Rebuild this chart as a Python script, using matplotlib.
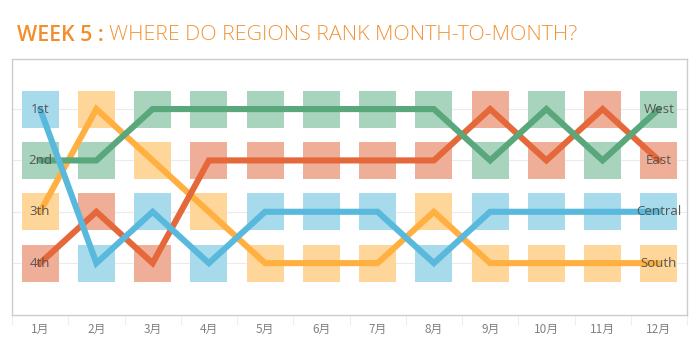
import matplotlib
matplotlib.use("Agg")
import matplotlib.pyplot as plt
import numpy as np

plt.rcParams['font.family'] = ['Noto Sans CJK SC', 'DejaVu Sans']

months = ["1月", "2月", "3月", "4月", "5月", "6月", "7月", "8月", "9月", "10月", "11月", "12月"]
rank_labels = ["1st", "2nd", "3th", "4th"]
regions = ["South", "East", "West", "Central"]
west = [2, 2, 1, 1, 1, 1, 1, 1, 2, 1, 2, 1]
east = [4, 3, 4, 2, 2, 2, 2, 2, 1, 2, 1, 2]
central = [1, 4, 3, 4, 3, 3, 3, 4, 3, 3, 3, 3]
south = [3, 1, 2, 3, 4, 4, 4, 3, 4, 4, 4, 4]
series = {"South": south, "East": east, "West": west, "Central": central}

line_colors = {"West": "#59A77A", "East": "#E5683B", "Central": "#59B9DC", "South": "#FFB040"}
box_colors = {"West": "#A8D3BC", "East": "#EFAE98", "Central": "#A7DAEB", "South": "#FFD699"}

fig = plt.figure(figsize=(6.99, 3.49), dpi=100)
ax = fig.add_axes([12/699, 1 - 315/349, 675/699, 256/349])

x = np.arange(len(months))
for r in regions:
    vals = np.array(series[r])
    ax.bar(x, 0.72, bottom=vals - 0.36, width=0.66, color=box_colors[r], zorder=2, linewidth=0)

for r in regions:
    ax.plot(x, series[r], color=line_colors[r], lw=4.4, zorder=3, solid_joinstyle='miter', solid_capstyle='round')

for i, lab in enumerate(rank_labels):
    ax.text(0, i + 1, lab, ha='center', va='center', fontsize=9.5, color='#555555', zorder=5,
            family=['Open Sans', 'DejaVu Sans'])
for r in regions:
    ax.text(x[-1], series[r][-1], r, ha='center', va='center', fontsize=9.5, color='#555555', zorder=5,
            family=['Open Sans', 'DejaVu Sans'])

for i in range(1, 5):
    ax.axhline(i, color='#EBEBEB', lw=0.8, zorder=1)

ax.set_xlim(-0.5, 11.5)
ax.set_ylim(5.01, 0.025)
ax.set_yticks([])
ax.set_xticks(x)
ax.set_xticklabels(months, fontsize=8.5, color='#808080')
ax.set_xticks(np.arange(-0.5, 12, 1), minor=True)
ax.tick_params(axis='x', which='major', length=0, pad=6)
ax.tick_params(axis='x', which='minor', length=7, color='#EEEEEE', width=0.8)
for s in ax.spines.values():
    s.set_color('#CCCCCC')
    s.set_linewidth(1)

fig.text(17/699, 1 - 35.5/349, "WEEK 5 :", fontsize=15.4, fontweight='semibold', color='#F28E2B',
         va='center', ha='left', family=['Open Sans', 'DejaVu Sans'])
fig.text(109/699, 1 - 35.5/349, "WHERE DO REGIONS RANK MONTH-TO-MONTH?", fontsize=15.4, color='#F39438',
         va='center', ha='left', family=['Open Sans', 'DejaVu Sans'], fontweight='light')

fig.savefig("out.png", dpi=100)
